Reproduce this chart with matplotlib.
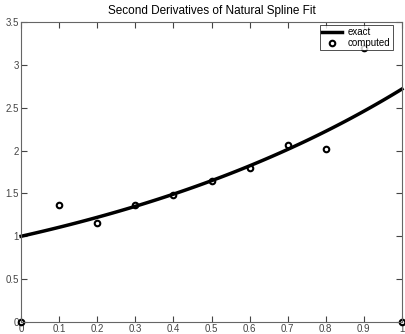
import numpy as np
import matplotlib
matplotlib.use("Agg")
import matplotlib.pyplot as plt

plt.rcParams['font.family'] = ['Liberation Sans', 'DejaVu Sans']

# exact second derivative: e^x
x_exact = np.linspace(0, 1, 101)
y_exact = np.exp(x_exact)

# computed second derivatives at the knots
x_knots = [0, 0.1, 0.2, 0.3, 0.4, 0.5, 0.6, 0.7, 0.8, 0.9, 1.0]
y_computed = [0, 1.37, 1.15, 1.37, 1.48, 1.65, 1.80, 2.06, 2.02, 3.20, 0]

xticks = [0, 0.1, 0.2, 0.3, 0.4, 0.5, 0.6, 0.7, 0.8, 0.9, 1]
xticklabels = ['0', '0.1', '0.2', '0.3', '0.4', '0.5', '0.6', '0.7', '0.8', '0.9', '1']
yticks = [0, 0.5, 1, 1.5, 2, 2.5, 3, 3.5]
yticklabels = ['0', '0.5', '1', '1.5', '2', '2.5', '3', '3.5']

fig = plt.figure(figsize=(4.06, 3.34), dpi=100)
ax = fig.add_axes([0.052, 0.036, 0.938, 0.898])

ax.plot(x_exact, y_exact, color='black', lw=2.5, label='exact', clip_on=False)
ax.plot(x_knots, y_computed, 'o', mfc='none', mec='black', mew=1.5, ms=4,
        label='computed', clip_on=False)

ax.set_xlim(0, 1)
ax.set_ylim(0, 3.5)
ax.set_xticks(xticks)
ax.set_xticklabels(xticklabels)
ax.set_yticks(yticks)
ax.set_yticklabels(yticklabels)
ax.tick_params(direction='in', length=4, labelsize=7, colors='#444444',
               top=True, right=True, pad=1.5)
for s in ax.spines.values():
    s.set_color('#666666')
    s.set_linewidth(0.8)

ax.set_title('Second Derivatives of Natural Spline Fit', fontsize=8.5, pad=6)

leg = ax.legend(loc='upper right', bbox_to_anchor=(0.976, 0.99),
                fontsize=7, frameon=True, fancybox=False,
                borderaxespad=0, handlelength=2.0, labelspacing=0.05,
                borderpad=0.25, handletextpad=0.6)
leg.get_frame().set_edgecolor('black')
leg.get_frame().set_linewidth(0.6)

fig.savefig('out.png', dpi=100)
